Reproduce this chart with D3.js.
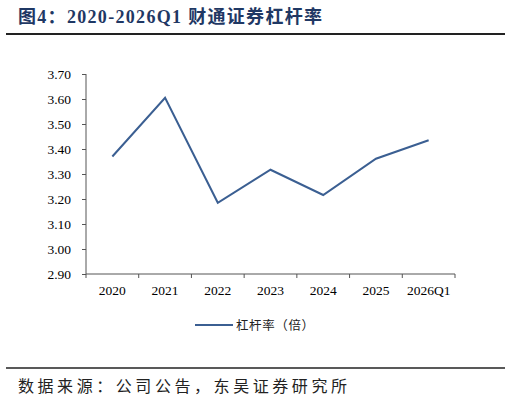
<!DOCTYPE html>
<html>
<head>
<meta charset="utf-8">
<script src="https://cdn.jsdelivr.net/npm/d3@7"></script>
<style>
  body { margin: 0; background: #fff; }
  svg { display: block; }
</style>
</head>
<body>
<div id="chart"></div>
<script>
var width = 511;
var height = 401;

var categories = ["2020", "2021", "2022", "2023", "2024", "2025", "2026Q1"];
var leverage = [3.37, 3.605, 3.185, 3.317, 3.216, 3.361, 3.435];
var yTicks = [2.9, 3.0, 3.1, 3.2, 3.3, 3.4, 3.5, 3.6, 3.7];

var serif = "'Liberation Serif', 'Times New Roman', 'Noto Sans CJK SC', serif";
var cjk = "'Noto Sans CJK SC', sans-serif";

var svg = d3.select("#chart").append("svg")
  .attr("width", width)
  .attr("height", height);

// title
svg.append("text")
  .attr("x", 18)
  .attr("y", 23)
  .attr("fill", "#1f3864")
  .attr("font-size", 18)
  .attr("font-weight", "bold")
  .attr("font-family", serif)
  .attr("textLength", 304)
  .attr("lengthAdjust", "spacing")
  .text("图4：2020-2026Q1 财通证券杠杆率");

svg.append("line")
  .attr("x1", 6).attr("x2", 505)
  .attr("y1", 34).attr("y2", 34)
  .attr("stroke", "#222").attr("stroke-width", 2);

var x = d3.scaleBand().domain(categories).range([86, 455]);
var y = d3.scaleLinear().domain([2.9, 3.7]).range([274, 74]);

// y axis
var yAxis = svg.append("g")
  .attr("transform", "translate(86,0)")
  .call(d3.axisLeft(y).tickValues(yTicks).tickSize(4).tickFormat(d3.format(".2f")));

// x axis
var xAxis = svg.append("g")
  .attr("transform", "translate(0,274)")
  .call(d3.axisBottom(x).tickSize(0).tickPadding(11));

xAxis.selectAll(".tick line").remove();
var boundaries = d3.range(categories.length + 1).map(function(i) { return 86 + i * x.step(); });
xAxis.selectAll(".bound")
  .data(boundaries)
  .enter().append("line")
  .attr("class", "bound")
  .attr("x1", function(d) { return d; })
  .attr("x2", function(d) { return d; })
  .attr("y1", 0).attr("y2", 4)
  .attr("stroke", "#555");

[yAxis, xAxis].forEach(function(g) {
  g.select(".domain").attr("stroke", "#555");
  g.selectAll(".tick line").attr("stroke", "#555");
  g.selectAll("text")
    .attr("font-family", serif)
    .attr("font-size", 13.5)
    .attr("fill", "#000");
});
yAxis.select(".domain").attr("d", "M0,74V274");
xAxis.select(".domain").attr("d", "M86,0H455");
yAxis.selectAll("text").attr("x", -15);

// line
var line = d3.line()
  .x(function(d, i) { return x(categories[i]) + x.bandwidth() / 2; })
  .y(function(d) { return y(d); });

svg.append("path")
  .datum(leverage)
  .attr("d", line)
  .attr("fill", "none")
  .attr("stroke", "#3b5f92")
  .attr("stroke-width", 2);

// legend
svg.append("line")
  .attr("x1", 195).attr("x2", 233)
  .attr("y1", 325).attr("y2", 325)
  .attr("stroke", "#3b5f92").attr("stroke-width", 2);
svg.append("text")
  .attr("x", 236)
  .attr("y", 330)
  .attr("font-size", 12.5)
  .attr("font-family", cjk)
  .attr("fill", "#222")
  .attr("textLength", 78)
  .attr("lengthAdjust", "spacing")
  .text("杠杆率（倍）");

// footer
svg.append("line")
  .attr("x1", 6).attr("x2", 505)
  .attr("y1", 368).attr("y2", 368)
  .attr("stroke", "#222").attr("stroke-width", 1.5);
svg.append("text")
  .attr("x", 18)
  .attr("y", 391.5)
  .attr("font-size", 16)
  .attr("font-family", cjk)
  .attr("fill", "#222")
  .attr("textLength", 329)
  .attr("lengthAdjust", "spacing")
  .text("数据来源：公司公告，东吴证券研究所");
</script>
</body>
</html>
